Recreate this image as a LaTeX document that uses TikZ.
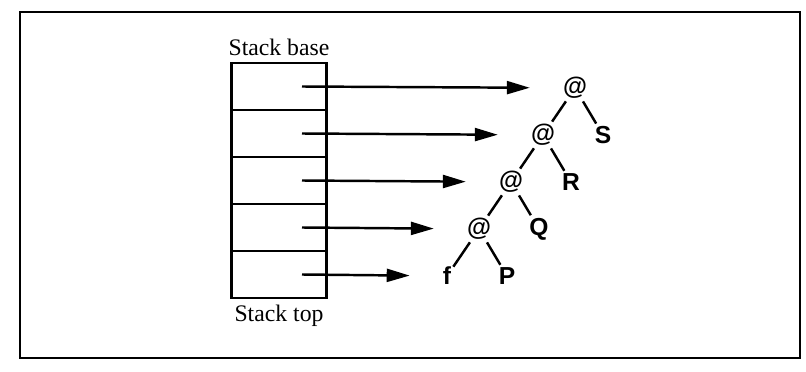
\documentclass[tikz,border=0pt]{standalone}
\usepackage{fontspec}
\setmainfont{Liberation Serif}
\setsansfont{Liberation Sans}
\usetikzlibrary{positioning, arrows.meta}

\begin{document}
\begin{tikzpicture}[
  x=0.02cm, y=-0.02cm,
  cell/.style={draw, line width=1.4pt, minimum width=1.9cm, minimum height=0.94cm, inner sep=0pt},
  lbl/.style={font=\fontsize{13.5}{16}\selectfont},
  tnode/.style={font=\sffamily\bfseries\fontsize{14}{16}\selectfont, inner sep=0.5pt},
  edge/.style={line width=1.4pt, shorten <=1pt, shorten >=1pt},
  ptr/.style={-{Triangle[length=4.6mm, width=2.6mm]}, line width=1.4pt, shorten >=6.4mm}
]
\useasboundingbox (0,0) rectangle (806,372);
% Frame
\draw[line width=1.4pt] (20,12) rectangle (800,358);

% Stack
\foreach \i in {1,...,5} {
  \node[cell] (c\i) at (279, {63+47*(\i-0.5)}) {};
  \coordinate (p\i) at (302, {63+47*(\i-0.5)});
}
\node[lbl, above=0pt of c1] (base) {Stack base};
\node[lbl, below=0pt of c5] (top) {Stack top};

% Tree
\node[tnode] (a1) at (575, 88) {@};
\node[tnode, on grid, below left=0.94cm and 0.64cm of a1] (a2) {@};
\node[tnode, on grid, below left=0.94cm and 0.64cm of a2] (a3) {@};
\node[tnode, on grid, below left=0.94cm and 0.64cm of a3] (a4) {@};
\node[tnode, on grid, below left=0.94cm and 0.64cm of a4] (f) {f};
\node[tnode, on grid, below right=0.94cm and 0.56cm of a1] (S) {S};
\node[tnode, on grid, below right=0.94cm and 0.56cm of a2] (R) {R};
\node[tnode, on grid, below right=0.94cm and 0.56cm of a3] (Q) {Q};
\node[tnode, on grid, below right=0.94cm and 0.56cm of a4] (P) {P};

\draw[edge] (a1) -- (a2);
\draw[edge] (a2) -- (a3);
\draw[edge] (a3) -- (a4);
\draw[edge] (a4) -- (f);
\draw[edge] (a1) -- (S);
\draw[edge] (a2) -- (R);
\draw[edge] (a3) -- (Q);
\draw[edge] (a4) -- (P);

% Arrows
\foreach \i/\t in {1/a1, 2/a2, 3/a3, 4/a4, 5/f}
  \draw[ptr] (p\i) -- (\t);
\end{tikzpicture}
\end{document}
